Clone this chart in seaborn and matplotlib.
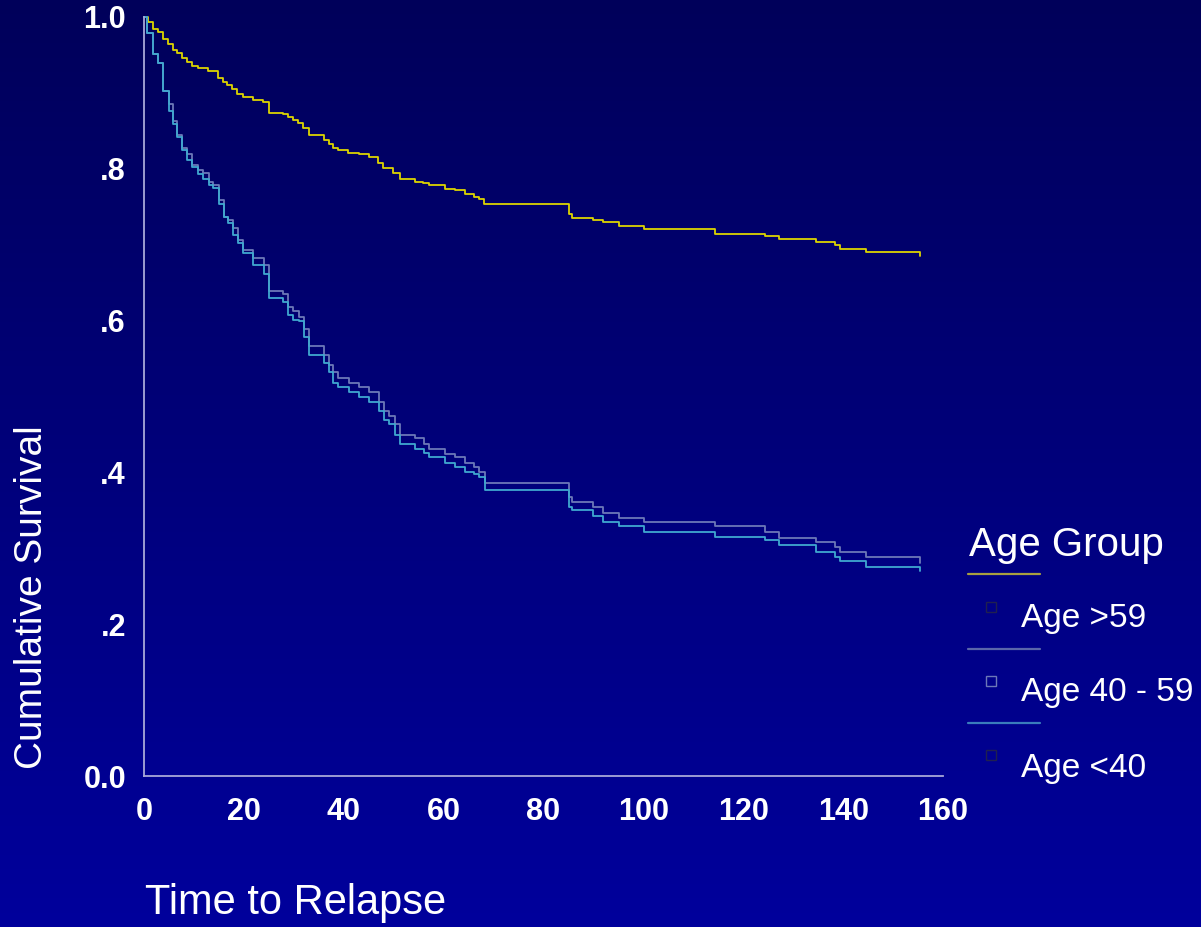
import numpy as np
import pandas as pd
import matplotlib
matplotlib.use('Agg')
import matplotlib.pyplot as plt
import seaborn as sns
from matplotlib.colors import LinearSegmentedColormap
from matplotlib.lines import Line2D
from matplotlib.patches import Rectangle

# survival curves (time, cumulative survival)
time_old = [0, 0.87, 1.87, 2.87, 3.87, 4.87, 5.9, 6.7, 7.7, 8.7, 9.7, 10.9, 12.9, 14.9, 15.9,
            16.7, 17.7, 18.7, 19.9, 21.9, 23.9, 25.1, 27.9, 28.9, 29.9, 30.9, 31.9, 33.1, 36.1,
            37.1, 37.9, 38.9, 40.9, 43.1, 45.1, 46.9, 47.9, 49.9, 51.2, 54.2, 55.8, 57.0, 60.2,
            62.2, 64.3, 66.0, 67.0, 68.1, 85.2, 85.8, 90.0, 92.0, 95.2, 100.1, 114.3, 124.3,
            127.1, 134.5, 138.3, 139.3, 144.5, 155.3]
surv_old = [1.0, 0.993, 0.984, 0.980, 0.971, 0.964, 0.957, 0.952, 0.946, 0.941, 0.936, 0.933,
            0.929, 0.920, 0.914, 0.911, 0.905, 0.898, 0.895, 0.890, 0.888, 0.874, 0.872, 0.868,
            0.864, 0.861, 0.854, 0.845, 0.838, 0.833, 0.827, 0.825, 0.821, 0.819, 0.815, 0.808,
            0.801, 0.795, 0.787, 0.783, 0.781, 0.779, 0.774, 0.772, 0.767, 0.763, 0.760, 0.754,
            0.740, 0.735, 0.733, 0.730, 0.725, 0.721, 0.714, 0.712, 0.708, 0.703, 0.699, 0.694,
            0.690, 0.685]

time_young = [0, 0.67, 1.73, 2.87, 3.87, 5.0, 5.9, 6.7, 7.7, 8.7, 9.7, 10.9, 11.9, 13.0, 13.9,
              15.1, 16.1, 16.8, 17.8, 18.9, 19.9, 21.9, 24.1, 25.1, 27.9, 28.9, 29.9, 31.1, 32.1,
              33.1, 36.1, 37.1, 37.9, 38.9, 41.1, 43.1, 45.1, 47.1, 48.0, 49.1, 50.2, 51.2, 54.3,
              56.0, 57.0, 60.2, 62.2, 64.2, 66.0, 67.0, 68.2, 85.2, 85.8, 90.0, 92.0, 95.2, 100.1,
              114.3, 124.3, 127.1, 134.5, 138.3, 139.3, 144.5, 155.3]
surv_mid = [1.0, 0.979, 0.951, 0.940, 0.902, 0.885, 0.863, 0.845, 0.828, 0.820, 0.805, 0.798,
            0.794, 0.783, 0.779, 0.759, 0.737, 0.733, 0.722, 0.706, 0.693, 0.683, 0.673, 0.639,
            0.635, 0.618, 0.612, 0.605, 0.589, 0.566, 0.555, 0.542, 0.532, 0.525, 0.518, 0.512,
            0.506, 0.493, 0.481, 0.474, 0.464, 0.449, 0.445, 0.438, 0.431, 0.424, 0.420, 0.413,
            0.407, 0.400, 0.386, 0.368, 0.361, 0.354, 0.347, 0.340, 0.334, 0.329, 0.322, 0.313,
            0.308, 0.302, 0.295, 0.288, 0.281]
surv_young = [1.0, 0.979, 0.951, 0.940, 0.902, 0.876, 0.859, 0.842, 0.825, 0.812, 0.802, 0.793,
              0.787, 0.779, 0.775, 0.754, 0.737, 0.728, 0.713, 0.702, 0.689, 0.673, 0.662, 0.630,
              0.624, 0.607, 0.601, 0.599, 0.578, 0.555, 0.544, 0.532, 0.518, 0.512, 0.506, 0.500,
              0.493, 0.481, 0.469, 0.464, 0.449, 0.438, 0.431, 0.425, 0.420, 0.413, 0.407, 0.400,
              0.398, 0.394, 0.377, 0.354, 0.350, 0.343, 0.334, 0.329, 0.322, 0.315, 0.3105, 0.304,
              0.295, 0.288, 0.283, 0.276, 0.270]

groups = ['Age >59', 'Age 40 - 59', 'Age <40']
line_colors = ['#dcd400', '#6c78b8', '#40a8d0']
legend_colors = ['#a8a040', '#5a66aa', '#3a7cbc']
x_ticks = [0, 20, 40, 60, 80, 100, 120, 140, 160]
y_ticks = [0.0, 0.2, 0.4, 0.6, 0.8, 1.0]
y_tick_labels = ['0.0', '.2', '.4', '.6', '.8', '1.0']

df = pd.concat([
    pd.DataFrame({'time': time_old, 'surv': surv_old, 'group': groups[0]}),
    pd.DataFrame({'time': time_young, 'surv': surv_mid, 'group': groups[1]}),
    pd.DataFrame({'time': time_young, 'surv': surv_young, 'group': groups[2]}),
])

sns.set_style('white')
plt.rcParams['font.family'] = ['Liberation Sans', 'DejaVu Sans']

W, H = 1201, 927
fig = plt.figure(figsize=(W / 100, H / 100), dpi=100)

# gradient background
bg = fig.add_axes([0, 0, 1, 1], zorder=-10)
cmap = LinearSegmentedColormap.from_list('bg', ['#00005a', '#00009c'])
bg.imshow(np.linspace(0, 1, 256).reshape(-1, 1), aspect='auto', cmap=cmap,
          extent=[0, 1, 0, 1], origin='upper')
bg.axis('off')

ax = fig.add_axes([144 / W, 1 - 776 / H, (943 - 144) / W, (776 - 17) / H])
ax.patch.set_alpha(0)

sns.lineplot(data=df, x='time', y='surv', hue='group', hue_order=groups,
             palette=dict(zip(groups, line_colors)), drawstyle='steps-post',
             estimator=None, linewidth=1.3, legend=False, ax=ax, clip_on=False)

ax.set_xlim(0, 160)
ax.set_ylim(0, 1.0)
ax.set_xticks(x_ticks)
ax.set_yticks(y_ticks)
ax.set_yticklabels(y_tick_labels)
ax.set_xlabel('')
ax.set_ylabel('')
axis_col = '#a8a8d8'
for s in ['top', 'right']:
    ax.spines[s].set_visible(False)
for s in ['left', 'bottom']:
    ax.spines[s].set_color(axis_col)
    ax.spines[s].set_linewidth(1.3)
ax.tick_params(axis='both', direction='out', length=5, width=1.2, color=axis_col,
               labelcolor='white', labelsize=22)
ax.tick_params(axis='x', pad=10)
ax.tick_params(axis='y', pad=8)
for lab in ax.get_xticklabels() + ax.get_yticklabels():
    lab.set_fontweight('bold')

fig.text(32 / W, 1 - 597 / H, 'Cumulative Survival', rotation=90, color='white',
         fontsize=28, ha='center', va='center')
fig.text(145 / W, 1 - 903 / H, 'Time to Relapse', color='white', fontsize=30,
         ha='left', va='center')

# legend
fig.text(969 / W, 1 - 545 / H, 'Age Group', color='white', fontsize=29, ha='left', va='center')
line_y = [574, 649, 723]
box_y = [607, 681, 755]
label_y = [619, 693, 768]
box_edges = ['#202050', '#6c78b8', '#202050']
for i, g in enumerate(groups):
    fig.add_artist(Line2D([968 / W, 1040 / W], [1 - line_y[i] / H] * 2,
                          color=legend_colors[i], linewidth=1.6))
    fig.add_artist(Rectangle((986 / W, 1 - (box_y[i] + 5) / H), 10 / W, 10 / H,
                             fill=False, edgecolor=box_edges[i], linewidth=1.0))
    fig.text(1021 / W, 1 - label_y[i] / H, g, color='white', fontsize=24,
             ha='left', va='center')

fig.savefig('out.png', dpi=100, facecolor=fig.get_facecolor())
